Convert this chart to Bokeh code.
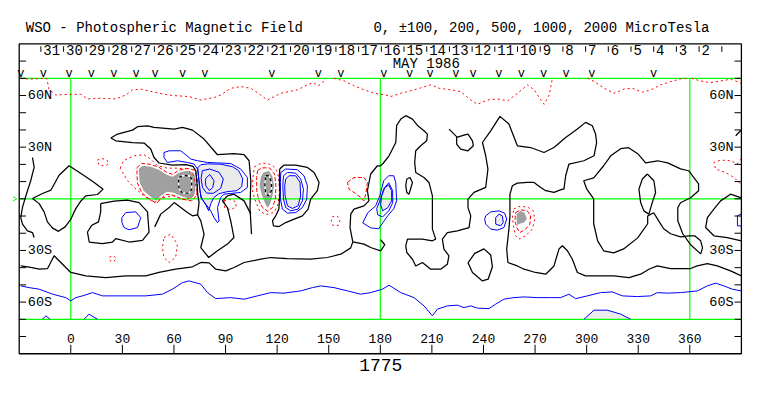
from bokeh.plotting import figure
from bokeh.models import Range1d
from bokeh.core.properties import value
from bokeh.embed import file_html
from bokeh.resources import INLINE

# ---------------- texts / axis values ----------------
title_left = "WSO - Photospheric Magnetic Field"
title_right = "0, \u00b1100, 200, 500, 1000, 2000 MicroTesla"
rotation_label = "1775"
month_label = "MAY 1986"
days = [31, 30, 29, 28, 27, 26, 25, 24, 23, 22, 21, 20, 19, 18, 17, 16,
        15, 14, 13, 12, 11, 10, 9, 8, 7, 6, 5, 4, 3, 2]
day_first_lon = -17.4      # longitude of the tick before "31"
day_step = 13.2            # Carrington degrees per day
obs_lon = [-29, -16, -1, 12, 25, 38, 49, 65, 78, 117, 144, 157, 182, 197,
           209, 224, 234, 249, 262, 275, 288, 303, 339]
lon_ticks = [0, 30, 60, 90, 120, 150, 180, 210, 240, 270, 300, 330, 360]
lat_label_vals = [60, 30, -30, -60]
lat_label_txt = ["60N", "30N", "30S", "60S"]
lat_tick_vals = [-80, -70, -60, -50, -40, -30, -20, -10, 0, 10, 20, 30, 40, 50, 60, 70, 80]
grid_lons = [0, 180, 360]
grid_lats = [-70, 0, 70]
lon_min, lon_max, lat_min, lat_max = -30, 390, -90, 90

# ---------------- neutral lines (black) : (lon, lat) ----------------
nl_west = [(-22.3, 24), (-21.3, 18.4), (-23.3, 10.5), (-25.2, 4.7), (-26.7, -0.2),
           (-28.1, -5), (-29.1, -10.9), (-28.1, -14.7), (-25.2, -18.6), (-22.3, -19.6), (-21.3, -22.5)]
nl_loop_b = [(-22.3, 0.2), (-16.5, 3.1), (-11.6, 5), (-6.8, 13.7), (-1, 19.2), (6.8, 14.1), (13.6, 9.5),
             (18.8, 5.6), (15.5, 2.5), (8.7, 1.7), (5.8, -1.4), (2.9, -5.7), (0, -11.9), (-3.3, -16.3),
             (-7.2, -18.9), (-10.7, -16.9), (-13.6, -13.4), (-15.5, -7.6), (-18.4, -2.8)]
nl_loop_c = [(17.4, -2.8), (25.2, -1.4), (32.9, -0.8), (39.7, -2.2), (44.6, -7.6), (45.5, -19.3),
             (41.7, -24.1), (33.9, -25.1), (26.2, -23.1), (24.2, -25.1), (18.4, -26.1), (10.7, -25.1),
             (9.7, -19.3), (12.2, -15.4), (16.1, -13.4), (17.4, -7.6)]
nl_north_upper = [(23.3, 35.3), (27.2, 37.6), (35.9, 39.9), (38.8, 41.9), (44.6, 42.4), (48.4, 41.5),
                  (60.1, 40.5), (64.9, 41.5), (70.8, 39.9), (77.5, 34.7), (83.3, 27.9), (85.3, 25.6),
                  (94.9, 26.3), (100.8, 25.6), (103.7, 22.1), (104.7, 10.5), (104.2, -5.2), (105.1, -20.5)]
nl_north_lower = [(23.3, 35.3), (26.2, 33.7), (35.9, 32.7), (42.6, 32.4), (46.5, 28.9), (48.4, 24),
                  (51.3, 20.8), (59.1, 19.6), (66.9, 19.8), (71.1, 18.8), (72.7, 16.3), (73.3, 9.5),
                  (73.8, 2.7), (74.6, -2.2), (73.7, -9.3)]
nl_south_stub = [(48.8, -16.3), (52.3, -8.9), (57.2, -5.1), (60.1, -2.2), (64, -5.1), (67.8, -8),
                 (70.8, -9.9), (73.7, -9.3), (75.6, -12.8), (77.5, -20.5), (75.6, -28.3), (80.2, -34.1),
                 (85.3, -30.2), (91.1, -26.3), (94.9, -22.5), (93, -12.8), (91.1, -5.1), (88.2, -1.2),
                 (91.1, 1.7), (94.9, 2.7), (100.8, -1.2), (104.7, -8.9)]
nl_east = [(121.5, 17.3), (124, 19.6), (130.8, 19.6), (137.6, 18.2), (141.5, 15.3), (144.4, 9.5),
           (143.4, 4.7), (139.5, -0.2), (138, -6), (134.7, -9.9), (129.9, -11.8), (125, -13.8),
           (121.1, -16.1), (117.9, -15.7), (117.3, -12.8), (119.2, -9.9), (121, -6), (121.6, 3.7), (121.3, 11.5)]
nl_south = [(-29.1, -39), (-23.3, -39.9), (-18.4, -40.9), (-13.5, -40.5), (-9.7, -33.1), (-5.8, -37),
            (0, -42.8), (8.7, -44.8), (20.3, -45.8), (32, -44.8), (43.6, -44.8), (51.3, -42.8),
            (61, -40.9), (70.8, -39.5), (75.6, -37), (80.4, -37.2), (84.3, -40.9), (90.1, -41.9),
            (94.9, -39.9), (100.8, -37), (110.5, -35.1), (116.3, -34.1), (126, -34.7), (139.5, -35.1),
            (149.2, -34.1), (157, -32.2), (162.8, -28.5), (164, -25)]
nl_long = [(164, -25), (162.4, -16.7), (162.8, -8.9), (164.7, -6), (170.5, -4.1), (173.4, -1.2),
           (172.5, 4.7), (174.4, 14.4), (178.3, 19.2), (180.2, 19.2), (181.8, 20.8), (185.1, 25),
           (189, 32.7), (189.5, 42.6), (191.9, 46.3), (194.8, 48.3), (198.7, 46.3), (201.6, 42.6),
           (205.4, 39.5), (207.4, 37.6), (207, 33.7), (203.5, 30.8), (200.6, 27.9), (200, 21.1),
           (200.6, 15.3), (205.4, 12.4), (208.3, 9.5), (210.3, 1.7), (210.3, -6), (210.3, -17.6),
           (212.2, -23.4), (210.3, -24.4), (204.5, -23.4), (195.8, -23.4), (194.8, -27.3),
           (195.4, -31.2), (198.7, -35.1), (200.6, -39), (204.5, -37), (209.3, -40.9), (215.1, -40.9),
           (219, -38), (219.9, -33.1), (217, -29.2), (216.1, -23.4), (219, -19.6), (224.8, -18.6),
           (231.6, -16.7), (232.6, -9.9), (231, -5.1), (231, -0.2), (234.5, 3.7), (241.3, 6.6),
           (242.6, 17.3), (241.3, 25), (239.4, 32.7), (244.2, 39.5), (249.6, 47.9), (254.8, 43.4),
           (259.7, 30.8), (267.4, 29.8), (275.2, 26.9), (281, 29.8), (287.8, 35.6), (294.6, 40.5),
           (299.4, 44.4), (303.3, 42.4), (305.2, 37.6), (305.8, 32.7), (304.3, 25), (298.4, 22.1),
           (289.7, 20.2), (287.8, 13.4), (286.8, 5.6), (285.9, 5.6), (281, 3.7), (276.2, 4.7),
           (273.3, 6.6), (269.4, 9.5), (265.5, 9.5), (259.7, 9.1), (256.8, 7.6), (255.4, 2.7),
           (255.4, -9.9), (254.8, -17.6), (253.5, -29.2), (254.2, -37), (259.7, -39), (263.6, -40.9),
           (270.3, -42.8), (276.2, -43.8), (281, -39), (283.9, -29.2), (285.9, -27.3), (288.8, -30.2),
           (291.7, -35.1), (294.6, -42.8), (299.4, -44.8), (308.1, -44.8), (315.9, -44.8),
           (324.6, -45.8), (331.4, -43.8), (336.2, -40.9), (341.1, -39), (348.8, -40.5),
           (360.5, -40.5), (364.3, -39), (370.2, -37.6), (376, -39), (383.7, -41.9), (390, -44.8)]
nl_hook = [(164, -25), (170.5, -26.3), (174.4, -28.3), (180.2, -30.2), (182.6, -26.7), (180.2, -23.8)]
nl_spur = [(220, 40.5), (224.8, 35.7)]
nl_k1 = [(224.4, 35.7), (228.7, 37), (231, 37.6), (233.6, 33.7), (234.1, 30.8), (231, 27.9),
         (226.7, 28.9), (224.4, 31.8)]
nl_k2 = [(195.4, 11.5), (197.3, 12.4), (198.7, 9.5), (196.7, 2.7), (195.4, 3.7), (194.8, 7.6)]
nl_k3 = [(231, -37.2), (234.9, -31.7), (240.3, -29.1), (244.2, -32.6), (245.2, -39.5), (242.7, -46.7),
         (239.4, -47.7), (233.6, -42.8)]
nl_tear = [(335.3, 14.4), (339.1, 10.5), (340.1, 3.7), (338.2, -2.1), (336.2, -8.9), (333.3, -7),
           (331.4, -2.1), (330.4, 5.6), (332.4, 11.5)]
nl_loop_p = [(335.5, -9.9), (339, -8.1), (341.9, -12.8), (344.8, -17.4), (348.8, -20.3), (354.6, -22.1),
             (359.3, -21.5), (362.8, -21.5), (366.3, -24.4), (367.4, -28.5), (366.3, -32), (360.5, -26.7),
             (355.9, -20.3), (353, -12.8), (353, -5.2), (354.6, -2.3), (360.5, 0.6), (365.1, 4.7),
             (365.1, 8.7), (359.3, 16.3), (354.6, 17.4), (347.1, 20.9), (341.3, 22.1), (334.3, 20.9),
             (329.7, 26.2), (324.4, 29.7), (319.8, 29.1), (314, 25), (309.9, 19.2), (304.1, 12.2),
             (298.3, 10.5), (300, 5.8), (304.1, 0), (304.1, -14.5), (306.4, -24.4), (309.9, -30.2),
             (315.7, -31.4), (321.5, -29.1), (329.7, -22.7), (335.5, -14.5)]
nl_right = [(390, 0.5), (383.7, 2.7), (377.9, -1.2), (374, -6), (370.2, -10.9), (369.2, -16.7),
            (372.1, -19.6), (374, -21.5), (381.8, -22.5), (390, -24.4)]
nl_topright = [(386.7, 36.6), (389.5, 39.5), (390, 40)]

# ---------------- positive field (blue) ----------------
pos_c_small = [(29.7, -10.9), (32, -8), (37.8, -7.6), (40.7, -10.9), (38.8, -16.7), (33.9, -18),
               (31, -16.7), (29.7, -13.8)]
pos_main_100 = [(54.2, 26.9), (57.2, 27.9), (64, 27.9), (69.8, 23.1), (73.7, 22.1), (79.5, 21.1),
                (93, 20.5), (98.8, 17.3), (102.7, 12.4), (102.7, 6.6), (98.8, 3.7), (93, 3.1),
                (89.1, 2.7), (87.2, 0.8), (85.3, -5.1), (86.2, -12.8), (85.3, -13.8), (83.3, -10.9),
                (81.4, -7), (78.5, -3.1), (75.6, 0.8), (74.6, 10.5), (73.7, 17.3), (71.7, 20.2),
                (67.8, 21.1), (62, 22.1), (56.2, 21.1), (54.2, 24)]
pos_main_200 = [(73.8, 18), (75.6, 19.8), (79.7, 20.3), (87.2, 20.1), (94.2, 18.6), (97.7, 16.3),
                (100, 11.6), (99.4, 7), (96.5, 4.7), (90.7, 4.1), (86, 2.9), (83.1, 0.6), (81.4, -2.9),
                (80.2, -7), (78.5, -3.5), (76.2, 0), (75, 4.7), (74.4, 11.6)]
pos_main_1000 = [(76.5, 16.3), (80.8, 17.3), (86.2, 15.4), (88.7, 11.5), (87.2, 6.1), (82.9, 3.2),
                 (79, 3.3), (76.6, 6.6), (75.8, 11.9)]
pos_main_2000 = [(78.5, 11.9), (80.8, 14.1), (83.3, 10.5), (82.6, 6.6), (80.6, 4.8), (78.5, 7.6),
                 (78.3, 10.5)]
pos_east_100 = [(122.1, 15.3), (125, 17.3), (131.8, 16.9), (135.6, 13.4), (137.6, 7.6), (137.2, -0.2),
                (134.7, -5.1), (130.8, -8), (126, -8.3), (123.1, -6), (121.9, -0.2), (121.9, 9.5)]
pos_east_200 = [(123.7, 13.4), (126, 15.3), (130.8, 14.9), (133.7, 11.5), (135.3, 5.6), (134.7, -1.2),
                (132.2, -6), (127.9, -7), (125, -5.1), (123.7, -0.2), (123.3, 7.6)]
pos_east_500 = [(125, 11.5), (126.9, 13.4), (130.8, 13.4), (133.3, 9.5), (133.7, 1.7), (132.2, -4.1),
                (128.9, -5.6), (126, -4.1), (124.6, 1.7), (124.4, 7.6)]
pos_180_100 = [(169.8, -14), (172.7, -8.1), (177.3, -4.1), (179.7, 1.7), (182, 10.5), (184.9, 13.4),
               (187.8, 13.4), (189, 9.3), (189.5, -1.2), (187.8, -5.8), (184.3, -9.9), (181.4, -14),
               (179.1, -17.4), (174.4, -16.9)]
pos_180_200 = [(177.9, -5.8), (180.2, 0), (182, 5.8), (184.9, 9.3), (187.2, 4.7), (187.2, -2.3),
               (184.9, -7), (181.4, -10.5), (178.5, -9.3)]
pos_180_500 = [(180.8, 1.7), (182.6, 6.4), (184.9, 8.1), (186.6, 4.7), (186.6, -1.2), (184.3, -5.2),
               (181.4, -7), (180.2, -3.5)]
pos_250_100 = [(241.3, -9.9), (244.2, -7.6), (249, -7), (252.3, -8.3), (253.5, -11.8), (251.9, -16.7),
               (248.1, -18.2), (244.2, -17.6), (241.3, -14.7), (240.7, -11.8)]
pos_250_200 = [(247.1, -10.9), (249, -8.9), (251, -9.9), (251.5, -13.8), (250, -15.7), (247.1, -14.7)]
pos_south = [(-29.1, -50.6), (-24.2, -51.6), (-18.4, -52.5), (-10.6, -55.4), (-2.9, -57.4), (0, -59.3),
             (2.9, -57.4), (6.8, -56.4), (12.6, -54.5), (18.4, -56.4), (26.2, -56.4), (34.9, -56.4),
             (43.6, -56.4), (53.3, -55.4), (59.1, -52.5), (64.9, -48.7), (68.8, -47.7), (75.6, -49.6),
             (79.5, -54.5), (84.3, -58), (93, -57.4), (100.8, -58.3), (108.5, -56.4), (116.3, -54.5),
             (124, -54.8), (133.7, -53.5), (140.5, -51.6), (145.4, -50.6), (153.1, -51.6),
             (160.9, -53.5), (168.6, -55.4), (174.4, -54.5), (181.2, -52.5), (185.1, -50.2),
             (191.9, -54.5), (199.6, -57.4), (205.4, -62.2), (210.3, -68), (213.2, -64.1),
             (219, -62.2), (224.8, -61.8), (228.7, -63.2), (232.6, -62.2), (236.5, -63.5),
             (243.2, -63.8), (247.1, -61.2), (251.9, -58.3), (257.7, -57.4), (263.6, -57),
             (271.3, -57.4), (279.1, -57.4), (284.9, -57.4), (289.7, -55.4), (293.6, -58),
             (300.4, -56.4), (308.1, -54.5), (314.9, -54.1), (320.8, -56.4), (329.5, -56.8),
             (337.2, -56.4), (341.1, -54.5), (346.9, -54.8), (354.7, -54.5), (364.4, -53.5),
             (370.2, -50.6), (375, -49), (379.8, -50.6), (384.7, -52.5), (390, -53.5)]
pos_bump_a = [(-16.5, -70), (-14.5, -68), (-12, -70)]
pos_bump_b = [(7.7, -70), (10.6, -67), (15.5, -70)]
pos_bump_c = [(298.4, -70), (304.3, -64.7), (312, -64.7), (319.8, -67), (325.6, -70)]
pos_right_edge = [(390, -8.7), (387.7, -9.9), (387.7, -15.7), (390, -15.7)]

# ---------------- negative field (red) ----------------
neg_north_a = [(-29, 70), (-24.5, 69.5), (-14, 70), (-12.6, 63.3), (-8.7, 60.3), (-1, 60.7), (5.8, 60.7),
               (9.7, 58), (16.5, 58.4), (26.2, 58), (32, 60.3), (35.9, 63.3), (40.7, 63.7), (45.5, 62.7),
               (51.4, 61.3), (59.1, 60), (68.8, 59.4), (75.6, 57.4), (83.4, 58.8), (87.2, 60.3),
               (93, 64.2), (98.9, 65.2), (104.7, 64.2), (110.5, 60.3), (114.4, 57.4), (122.1, 61.3),
               (131.8, 63.3), (137.6, 66.2), (141, 67.5), (144, 65.7), (146.5, 67.5), (148, 70)]
neg_north_b = [(153, 70), (159, 68.5), (164.5, 65.7), (170.6, 63.3), (176.4, 61.3), (183.2, 60.3),
               (186.1, 59.4), (191.9, 61.3), (199.7, 63.3), (209.4, 66.2), (214.2, 64.2), (221, 63.3),
               (226.8, 62.3), (232.6, 57.4), (236.5, 54.9), (242.3, 57.4), (248.1, 58), (254, 56.9),
               (259.8, 61.3), (265.6, 66.2), (269.5, 63.3), (273.3, 57.4), (275.3, 54.9), (278.2, 60.3),
               (280.1, 70)]
neg_north_c = [(300.5, 70), (304.4, 68.1), (310.2, 64.2), (316, 61.3), (321.8, 63.8), (326.7, 64.2),
               (332.5, 61.9), (337.3, 63.3), (343.1, 66.2), (349, 68.1), (354.8, 69.7), (359.6, 70)]
neg_north_d = [(361, 70), (366, 68.5), (372, 67.5), (378, 68.5), (384, 69.5), (390, 67)]
neg_small_a = [(15.5, 22.5), (18, 23.5), (21, 22.5), (22, 20.5), (20, 19), (16.5, 19.5)]
neg_small_b = [(54.2, -22.5), (58.1, -20.5), (62, -26.3), (61, -34.1), (57.2, -37), (54.2, -34.1),
               (53.3, -28.3)]
neg_small_c = [(22.5, -34), (24.5, -33), (26.5, -34.5), (25, -36.5), (23, -36)]
neg_small_d = [(89.1, -1.2), (92.4, -0.3), (95.9, -1.7), (96.2, -4.7), (93, -6.4), (89.5, -5.2)]
neg_small_e = [(152, -10.5), (155, -10), (156.5, -12.5), (155.5, -15.5), (152.5, -15.5), (151.5, -13)]
neg_mid_east = [(160.9, 9.5), (164.7, 12.4), (170.5, 12.4), (172.5, 9.5), (171.5, 2.7), (170.5, -1.2),
                (168.6, 0.8), (164.7, 3.7), (161.8, 5.6)]
neg_west_100 = [(28.7, 17.8), (30.6, 22.1), (36.8, 25), (42.6, 25.6), (46.5, 23.1), (50.4, 19.2),
                (56.2, 17.8), (62, 17.8), (67.4, 17.4), (71.5, 13.4), (72.7, 6.6), (73.7, 2.7),
                (70.8, 1.7), (67.8, -0.2), (64.9, -0.2), (60.1, 1.7), (54.2, 0.8), (48.4, -2.2),
                (42.6, 1.7), (36.8, 6.6), (33, 10.5)]
neg_west_200 = [(38.4, 18), (41.3, 20.6), (46.5, 20), (51.2, 18.3), (55.8, 15.4), (59.3, 14.2),
                (62.8, 16.6), (67.4, 17.7), (72.1, 16.6), (73.8, 10.5), (73.3, 2), (70.3, -1.2),
                (65.1, -0.3), (59.9, 2), (55.8, 2.6), (52.9, 0.6), (50, -2.6), (45.9, -0.3),
                (41.3, 3.5), (38.7, 9.3)]
neg_west_500 = [(39.5, 17.4), (41.9, 19.2), (46.5, 18.6), (51.2, 16.9), (55.8, 14), (59.3, 12.8),
                (62.8, 15.1), (67.4, 16.3), (71.5, 15.1), (72.7, 10.5), (72.1, 2.9), (69.8, 0),
                (65.1, 1.2), (59.9, 3.5), (55.8, 4.1), (52.3, 1.7), (50, -1.2), (46.5, 1.2),
                (42.4, 4.7), (40.1, 9.3)]
neg_west_1000 = [(63, 12.4), (64.9, 13.4), (68.8, 13.4), (70.3, 11.5), (70.3, 5.6), (68.8, 3.3),
                 (64.9, 3.3), (63, 5.6), (62.6, 9.5)]
neg_mid_100 = [(106.8, 18.5), (110.5, 20.6), (114.4, 20.6), (118, 18.8), (120.3, 15.3), (121.2, 9.5),
               (121.2, 1.7), (120.2, -4.1), (118, -8), (113.4, -9.2), (109.8, -7), (107.8, -2.2),
               (105.8, 3.7), (105.8, 11.5)]
neg_mid_200 = [(108.6, 16.3), (111, 18), (115.5, 18), (118.5, 14.4), (119.3, 7.6), (118.9, -0.2),
               (117.3, -5.1), (114.4, -7.2), (111.5, -5.1), (109.5, -1.2), (108.1, 4.7), (108.1, 12.4)]
neg_mid_500 = [(110.5, 12.5), (112, 15.3), (115.3, 16.2), (117.3, 12.8), (118.2, 7.6), (117.3, 1.7),
               (115.8, -3.1), (114.4, -5.2), (112.9, -2.5), (111, 2.7), (109.8, 7.6)]
neg_mid_1000 = [(113.4, 13.4), (115.3, 13.4), (116.7, 9.5), (116.7, 4.7), (115.3, 1.7), (113.4, 2.7),
                (112.8, 7.6)]
neg_262_100 = [(257.7, -6), (260.6, -4.5), (265.5, -4.7), (269, -7), (269.8, -11.8), (268.4, -17.6),
               (264.5, -21.5), (260.6, -23.4), (258.7, -21.5), (257.4, -15.7), (256.8, -9.9)]
neg_262_200 = [(258.7, -8), (261.6, -6.4), (265.5, -7), (267.4, -9.9), (267, -14.7), (264.5, -17.6),
               (261.2, -19.6), (259.3, -16.7), (258.3, -12.8)]
neg_262_500 = [(259.3, -8.9), (261.6, -7), (264, -8.3), (265.2, -11.8), (263.6, -13.8), (260.6, -14.7),
               (259.7, -15.7), (259.3, -12.8)]
neg_right_edge = [(390, 23.3), (387.5, 20.2), (383.7, 22.1), (377.9, 22.5), (374, 21.1), (375, 17.3),
                  (380.8, 15.3), (385.7, 12.4), (388.6, 9.5), (390, 8.1)]


# ---------------- helpers ----------------
def lx(c, close=False):
    v = [q[0] for q in c]
    return v + [v[0]] if close else v


def ly(c, close=False):
    v = [q[1] for q in c]
    return v + [v[0]] if close else v


def lines(p, curves, close, **kw):
    p.multi_line(xs=[lx(c, close) for c in curves], ys=[ly(c, close) for c in curves], **kw)


def fills(p, curves, color):
    p.patches(xs=[lx(c) for c in curves], ys=[ly(c) for c in curves],
              fill_color=color, line_color=None)


MONO = "Liberation Mono"
BLUE = "#0000ff"
RED = "#ff0000"
GREEN = "#00ff00"

# the canvas is the whole picture; the chart frame is drawn as a box inside it
p = figure(width=755, height=388, x_range=Range1d(-40.88, 398.2), y_range=Range1d(-110.2, 115.2),
           output_backend="svg", toolbar_location=None, title=None,
           x_axis_location=None, y_axis_location=None,
           min_border_left=0, min_border_right=0, min_border_top=0, min_border_bottom=0)
for g in p.grid:
    g.visible = False
p.outline_line_color = None
p.background_fill_color = "white"
p.border_fill_color = "white"

# fills
fills(p, [pos_main_200, pos_east_500, pos_180_500, pos_250_200, pos_bump_c], "#ebebeb")
fills(p, [neg_west_500, neg_mid_500, neg_262_500], "#a0a0a0")

# green reference grid
p.multi_line(xs=[[g, g] for g in grid_lons], ys=[[-70, 70] for g in grid_lons],
             line_color=GREEN, line_width=1.2)
p.multi_line(xs=[[lon_min, lon_max] for g in grid_lats], ys=[[g, g] for g in grid_lats],
             line_color=GREEN, line_width=1.2)
p.line(x=[-33.6, -31.4, -33.6], y=[1.3, 0, -1.3], line_color=GREEN, line_width=1)

# positive contours
lines(p, [pos_c_small, pos_main_100, pos_main_200, pos_main_1000, pos_main_2000,
          pos_east_100, pos_east_200, pos_east_500, pos_180_100, pos_180_200, pos_180_500,
          pos_250_100, pos_250_200], True, line_color=BLUE, line_width=1)
lines(p, [pos_south, pos_bump_a, pos_bump_b, pos_bump_c, pos_right_edge], False,
      line_color=BLUE, line_width=1)

# negative contours
lines(p, [neg_north_a, neg_north_b, neg_north_c, neg_north_d, neg_right_edge], False,
      line_color=RED, line_width=1, line_dash="2 3")
lines(p, [neg_small_a, neg_small_b, neg_small_c, neg_small_d, neg_small_e, neg_west_100,
          neg_mid_100, neg_262_100], True, line_color=RED, line_width=1, line_dash="2 3")
lines(p, [neg_mid_east, neg_west_200, neg_mid_200, neg_262_200], True,
      line_color=RED, line_width=1, line_dash="4 2")
lines(p, [neg_west_1000, neg_mid_1000], True, line_color="white", line_width=1.3)
lines(p, [neg_west_1000, neg_mid_1000], True, line_color="black", line_width=1.3, line_dash="3 3")

# neutral lines
lines(p, [nl_west, nl_north_upper, nl_north_lower, nl_south_stub, nl_south, nl_long, nl_hook,
          nl_spur, nl_right, nl_topright], False, line_color="black", line_width=1.25)
lines(p, [nl_loop_b, nl_loop_c, nl_east, nl_k1, nl_k2, nl_k3, nl_tear, nl_loop_p], True,
      line_color="black", line_width=1.25)

# ---------------- frame box, ticks and labels ----------------
p.line(x=[lon_min, lon_min, lon_max, lon_max, lon_min], y=[lat_min, lat_max, lat_max, lat_min, lat_min],
       line_color="black", line_width=1.3)

day_tick_lons = [day_first_lon + day_step * i for i in range(len(days) + 1)]
p.segment(x0=day_tick_lons, y0=[88.6] * len(day_tick_lons), x1=day_tick_lons,
          y1=[85.4] * len(day_tick_lons), line_color="black", line_width=1)
p.text(x=[day_tick_lons[i] + 1.4 for i in range(len(days))], y=[86.4] * len(days),
       text=[str(d) for d in days], text_font=value(MONO), text_font_size="14px",
       text_baseline="middle", text_align="left", text_color="black")
p.text(x=[187.2], y=[78.6], text=[month_label], text_font=value(MONO), text_font_size="14px",
       text_baseline="middle", text_align="left", text_color="black")
p.text(x=obs_lon, y=[72.6] * len(obs_lon), text=["v"] * len(obs_lon), text_font=value(MONO),
       text_font_size="12px", text_baseline="middle", text_align="center", text_color="black")

# latitude ticks on both sides
p.segment(x0=[lon_min] * len(lat_tick_vals), y0=lat_tick_vals, x1=[lon_min + 4] * len(lat_tick_vals),
          y1=lat_tick_vals, line_color="black", line_width=1)
p.segment(x0=[lon_max] * len(lat_tick_vals), y0=lat_tick_vals, x1=[lon_max - 4] * len(lat_tick_vals),
          y1=lat_tick_vals, line_color="black", line_width=1)
p.text(x=[-25] * 4, y=lat_label_vals, text=lat_label_txt, text_font=value(MONO),
       text_font_size="13.5px", text_baseline="middle", text_align="left", text_color="black")
p.text(x=[385.5] * 4, y=lat_label_vals, text=lat_label_txt, text_font=value(MONO),
       text_font_size="13.5px", text_baseline="middle", text_align="right", text_color="black")

# longitude ticks along the bottom
p.segment(x0=lon_ticks, y0=[lat_min] * len(lon_ticks), x1=lon_ticks, y1=[-84.8] * len(lon_ticks),
          line_color="black", line_width=1)
p.text(x=lon_ticks, y=[-81.3] * len(lon_ticks), text=[str(v) for v in lon_ticks],
       text_font=value(MONO), text_font_size="13px", text_baseline="middle",
       text_align="center", text_color="black")

# header and rotation number
p.text(x=[-26.2, 176], y=[99.5, 99.5], text=[title_left, title_right], text_font=value(MONO),
       text_font_size="14px", text_baseline="middle", text_align="left", text_color="black")
p.text(x=[180.3], y=[-96.8], text=[rotation_label], text_font=value(MONO), text_font_size="18px",
       text_baseline="middle", text_align="center", text_color="black")

open("out.html", "w").write(file_html(p, INLINE))
